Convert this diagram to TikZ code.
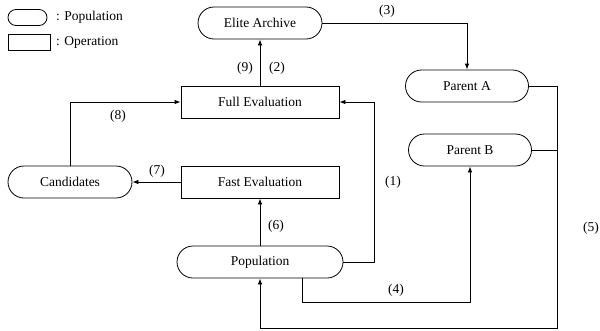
\documentclass[tikz,border=0pt]{standalone}
\usepackage{fontspec}
\setmainfont{Liberation Serif}
\usetikzlibrary{arrows.meta}
\begin{document}
\begin{tikzpicture}[x=1pt,y=-1pt,
  every node/.style={font=\fontsize{13.5}{16}\selectfont},
  pop/.style={draw,line width=0.8pt,rounded corners=16pt,minimum height=32pt,inner sep=0pt},
  oper/.style={draw,line width=0.8pt,minimum height=32pt,inner sep=0pt},
  arr/.style={line width=0.8pt,-{Latex[length=6pt,width=4.5pt]}},
  ln/.style={line width=0.8pt},
  lbl/.style={inner sep=0pt}]
\useasboundingbox (0,0) rectangle (600,330);
% legend
\node[pop,minimum width=39pt,minimum height=16pt,rounded corners=8pt] (lp) at (27.5,17.5) {};
\node[lbl,anchor=west] (lpt) at (56,17) {: Population};
\node[oper,minimum width=42pt,minimum height=16pt] (lo) at (29,42) {};
\node[lbl,anchor=west] (lot) at (56,42) {: Operation};
% nodes
\node[pop,minimum width=124pt] (elite) at (260,23) {Elite Archive};
\node[oper,minimum width=158pt] (full) at (260,102) {Full Evaluation};
\node[oper,minimum width=158pt] (fast) at (260,182) {Fast Evaluation};
\node[pop,minimum width=124pt] (cand) at (70,182) {Candidates};
\node[pop,minimum width=166pt] (popn) at (260,262) {Population};
\node[pop,minimum width=123pt] (pa) at (467,86) {Parent A};
\node[pop,minimum width=123pt] (pb) at (470,150) {Parent B};
% coordinates
\coordinate (c1) at (374,262);
\coordinate (c4a) at (302,302);
\coordinate (c5a) at (557,86);
\coordinate (c5b) at (557,150);
\coordinate (c5c) at (557,328);
% connectors
\draw[arr] (full.north) -- (elite.south);
\draw[arr] (cand.north) |- (full.west);
\draw[arr] (fast.west) -- (cand.east);
\draw[arr] (popn.north) -- (fast.south);
\draw[arr] (popn.east) -- (c1) |- (full.east);
\draw[arr] (elite.east) -| (pa.north);
\draw[arr] ([xshift=42pt]popn.south) -- (c4a) -| (pb.south);
\draw[ln] (pb.east) -- (c5b);
\draw[arr] (pa.east) -- (c5a) -- (c5c) -| (popn.south);
% labels
\node[lbl] (l9) at (245,68) {(9)};
\node[lbl] (l2) at (277,68) {(2)};
\node[lbl] (l8) at (118,116) {(8)};
\node[lbl] (l7) at (157,171) {(7)};
\node[lbl] (l6) at (276,226) {(6)};
\node[lbl] (l1) at (393,182) {(1)};
\node[lbl] (l3) at (387,11) {(3)};
\node[lbl] (l4) at (396,290) {(4)};
\node[lbl] (l5) at (591,228) {(5)};
\end{tikzpicture}
\end{document}
